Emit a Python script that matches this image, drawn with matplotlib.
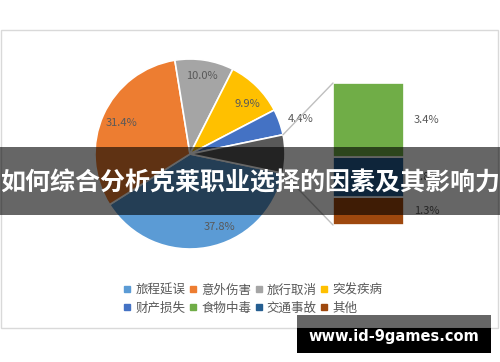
import matplotlib
matplotlib.use("Agg")
import matplotlib.pyplot as plt
from matplotlib.patches import Rectangle, ConnectionPatch
from matplotlib.lines import Line2D
import numpy as np

plt.rcParams['font.family'] = ['Noto Sans CJK SC', 'DejaVu Sans']

# ---- data ----
pie_names = ['旅程延误', '意外伤害', '旅行取消', '突发疾病', '财产损失']
pie_values = [37.8, 31.4, 10.0, 9.9, 4.4]
bar_names = ['食物中毒', '交通事故', '其他']
bar_values = [3.4, 1.8, 1.3]
legend_names = pie_names + bar_names

pie_colors = ['#5B9BD5', '#ED7D31', '#A5A5A5', '#FFC000', '#4472C4']
other_color = '#595959'
bar_colors = ['#70AD47', '#255E91', '#9E480E']
label_color = '#595959'

W, H = 500, 362
fig = plt.figure(figsize=(W / 100, H / 100), dpi=100)

def fbox(x0, y0, x1, y1):
    return [x0 / W, (H - y1) / H, (x1 - x0) / W, (y1 - y0) / H]

# chart border
fig.add_artist(Rectangle((1 / W, (H - 328) / H), 497 / W, 298 / H,
                         transform=fig.transFigure, facecolor='white',
                         edgecolor='#D9D9D9', lw=1, zorder=-5))

# ---- pie ----
other_total = sum(bar_values)
vals = pie_values + [other_total]
cols = pie_colors + [other_color]
start = -0.5 * other_total / sum(vals) * 360.0

ax = fig.add_axes(fbox(95, 59, 285, 249))
wedges, _ = ax.pie(vals, colors=cols, startangle=start, counterclock=False,
                   radius=1.0, wedgeprops=dict(edgecolor='white', linewidth=1.2))
ax.set_xlim(-1, 1)
ax.set_ylim(-1, 1)
ax.set_aspect('equal')
ax.axis('off')

label_r = [0.83, 0.79, 0.83, 0.80, 1.22]
label_shift = [12, 0, 0, -4, -2]
total = sum(vals)
a = start
for i, v in enumerate(pie_values):
    span = v / total * 360
    mid = a - span / 2 + label_shift[i]
    a -= span
    r = label_r[i]
    ax.text(r * np.cos(np.radians(mid)), r * np.sin(np.radians(mid)),
            f'{v:.1f}%', ha='center', va='center', fontsize=8, color=label_color)

# ---- bar ----
bx = fig.add_axes(fbox(333, 83, 404, 225))
bottom = 0
seg = []
for name, v, c in reversed(list(zip(bar_names, bar_values, bar_colors))):
    bx.bar(0, v, bottom=bottom, width=1, align='edge', color=c,
           edgecolor='white', linewidth=1.2)
    seg.append((bottom + v / 2, v))
    bottom += v
for y, v in seg:
    bx.text(1.32, y, f'{v:.1f}%', ha='center', va='center', fontsize=8,
            color=label_color)
bx.set_xlim(0, 1)
bx.set_ylim(0, other_total)
bx.axis('off')

# connector lines
half = np.radians(-start)
for sgn, yb in [(1, other_total), (-1, 0)]:
    cp = ConnectionPatch(xyA=(np.cos(half), sgn * np.sin(half)), coordsA=ax.transData,
                         xyB=(0, yb), coordsB=bx.transData,
                         color='#BFBFBF', lw=1)
    fig.add_artist(cp)

# ---- legend ----
handles = [Line2D([], [], marker='s', linestyle='none', markersize=4.5,
                  markerfacecolor=c, markeredgecolor=c)
           for c in pie_colors + bar_colors]
order = [0, 4, 1, 5, 2, 6, 3, 7]
leg = fig.legend([handles[i] for i in order], [legend_names[i] for i in order],
                 ncol=4, loc='center', bbox_to_anchor=(253 / W, (H - 299) / H),
                 frameon=False, fontsize=9, handlelength=0.6, handletextpad=0.35,
                 columnspacing=0.3, labelspacing=0.4, labelcolor=label_color,
                 borderpad=0)

# ---- banner overlay ----
fig.add_artist(Rectangle((0, (H - 215) / H), 1, 68 / H, transform=fig.transFigure,
                         facecolor='black', alpha=0.6, lw=0, zorder=20))
fig.text(0.5, (H - 183) / H, '如何综合分析克莱职业选择的因素及其影响力',
         ha='center', va='center', fontsize=18, fontweight='bold', color='white',
         zorder=21)

# ---- watermark ----
fig.add_artist(Rectangle((297 / W, (H - 328) / H), 194 / W, 13 / H,
                         transform=fig.transFigure, facecolor='black', alpha=0.6,
                         lw=0, zorder=20))
fig.add_artist(Rectangle((297 / W, (H - 353) / H), 194 / W, 25 / H,
                         transform=fig.transFigure, facecolor='black',
                         lw=0, zorder=20))
fig.text(394 / W, (H - 337) / H, 'www.id-9games.com', ha='center', va='center',
         fontsize=10.5, fontweight='bold', color='white', family='DejaVu Sans',
         zorder=21)

fig.savefig('out.png', dpi=100, facecolor='white')
